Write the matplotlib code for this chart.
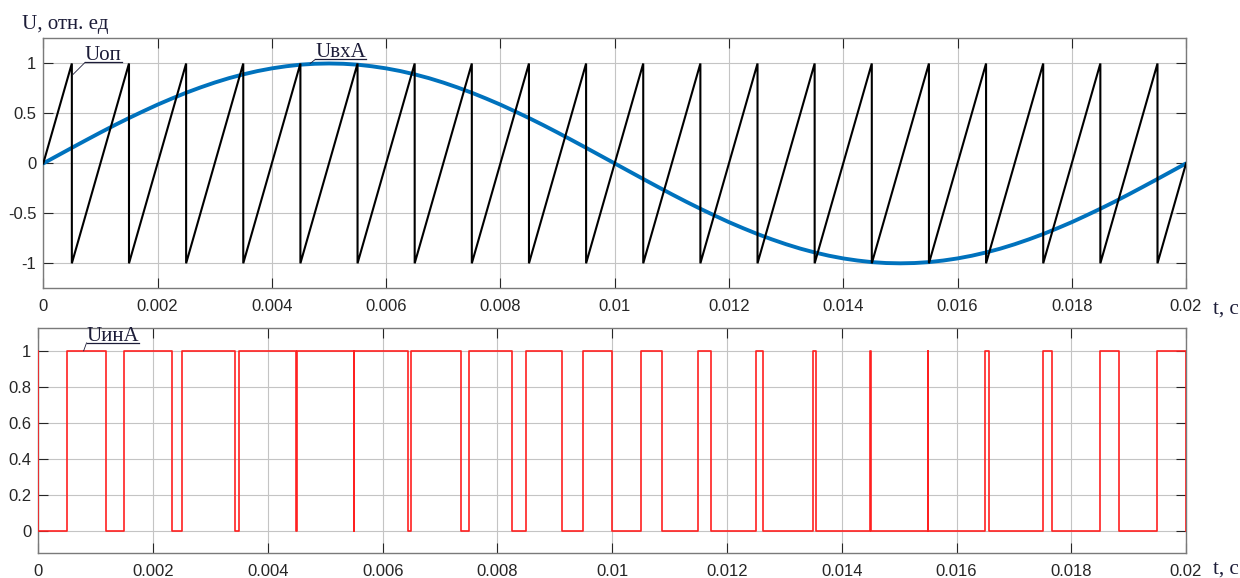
import numpy as np
import matplotlib
matplotlib.use("Agg")
import matplotlib.pyplot as plt
from matplotlib.lines import Line2D
from matplotlib.ticker import FuncFormatter, MultipleLocator

plt.rcParams['font.family'] = ['Liberation Sans', 'DejaVu Sans']
plt.rcParams['axes.unicode_minus'] = False

# input sine UвхA, sampled every 0.25 ms over one period (0 .. 0.02 s)
u_in = [0, 0.078, 0.156, 0.233, 0.309, 0.383, 0.454, 0.522, 0.588, 0.649,
        0.707, 0.760, 0.809, 0.853, 0.891, 0.924, 0.951, 0.972, 0.988, 0.997,
        1.0, 0.997, 0.988, 0.972, 0.951, 0.924, 0.891, 0.853, 0.809, 0.760,
        0.707, 0.649, 0.588, 0.522, 0.454, 0.383, 0.309, 0.233, 0.156, 0.078,
        0, -0.078, -0.156, -0.233, -0.309, -0.383, -0.454, -0.522, -0.588, -0.649,
        -0.707, -0.760, -0.809, -0.853, -0.891, -0.924, -0.951, -0.972, -0.988, -0.997,
        -1.0, -0.997, -0.988, -0.972, -0.951, -0.924, -0.891, -0.853, -0.809, -0.760,
        -0.707, -0.649, -0.588, -0.522, -0.454, -0.383, -0.309, -0.233, -0.156, -0.078, 0]

# reference sawtooth Uоп (corner points)
saw_t = [0, 0.0005, 0.0005, 0.0015, 0.0015, 0.0025, 0.0025, 0.0035, 0.0035,
         0.0045, 0.0045, 0.0055, 0.0055, 0.0065, 0.0065, 0.0075, 0.0075,
         0.0085, 0.0085, 0.0095, 0.0095, 0.0105, 0.0105, 0.0115, 0.0115,
         0.0125, 0.0125, 0.0135, 0.0135, 0.0145, 0.0145, 0.0155, 0.0155,
         0.0165, 0.0165, 0.0175, 0.0175, 0.0185, 0.0185, 0.0195, 0.0195, 0.02]
saw_u = [0, 1, -1, 1, -1, 1, -1, 1, -1, 1, -1, 1, -1, 1, -1, 1, -1, 1, -1, 1, -1,
         1, -1, 1, -1, 1, -1, 1, -1, 1, -1, 1, -1, 1, -1, 1, -1, 1, -1, 1, -1, 0]

# PWM output UинA: switching instants and level after each switch
pwm_t = [0, 0, 0.0005, 0.00118, 0.0015, 0.00233, 0.0025, 0.00343, 0.0035,
         0.004494, 0.0045, 0.005494, 0.0055, 0.00644, 0.0065, 0.00736, 0.0075,
         0.00826, 0.0085, 0.00913, 0.0095, 0.01, 0.0105, 0.01086, 0.0115,
         0.01173, 0.0125, 0.01262, 0.0135, 0.013555, 0.0145, 0.014506, 0.0155,
         0.015506, 0.0165, 0.01656, 0.0175, 0.01767, 0.0185, 0.01883, 0.0195, 0.02]
pwm_u = [1, 0, 1, 0, 1, 0, 1, 0, 1, 0, 1, 0, 1, 0, 1, 0, 1, 0, 1, 0, 1,
         0, 1, 0, 1, 0, 1, 0, 1, 0, 1, 0, 1, 0, 1, 0, 1, 0, 1, 0, 1, 0]

top_yticks = [-1, -0.5, 0, 0.5, 1]
bot_yticks = [0, 0.2, 0.4, 0.6, 0.8, 1]

SERIF = ['Liberation Serif', 'DejaVu Serif']
TXT = '#1c1c38'

fig = plt.figure(figsize=(12.4, 5.78), dpi=100)
ax1 = fig.add_axes([0.0349, 0.5012, 0.9216, 0.4322])
ax2 = fig.add_axes([0.0309, 0.0427, 0.9256, 0.3893])

t_in = np.linspace(0, 0.02, len(u_in))
ax1.plot(t_in, u_in, color='#0072BD', lw=2.8, zorder=3, solid_capstyle='round')
ax1.plot(saw_t, saw_u, color='black', lw=1.5, zorder=4, solid_joinstyle='miter')
ax2.step(pwm_t, pwm_u, where='post', color='#ff2020', lw=1.2, zorder=3)

fmt = FuncFormatter(lambda v, p: '%g' % round(v, 6))
for ax in (ax1, ax2):
    ax.set_xlim(0, 0.02)
    ax.xaxis.set_major_locator(MultipleLocator(0.002))
    ax.xaxis.set_major_formatter(fmt)
    ax.yaxis.set_major_formatter(fmt)
    ax.grid(True, color='#c4c4c4', lw=0.8)
    ax.set_axisbelow(True)
    for s in ax.spines.values():
        s.set_color('#7a7a7a')
        s.set_linewidth(1.0)
    ax.tick_params(direction='in', length=7, width=0.8, color='#262626',
                   labelcolor='#262626', labelsize=12, top=True, right=True)
    ax.tick_params(axis='x', pad=8)
    ax.tick_params(axis='y', pad=5)

ax1.set_ylim(-1.25, 1.25)
ax1.set_yticks(top_yticks)
ax2.set_ylim(-0.125, 1.125)
ax2.set_yticks(bot_yticks)

# axis captions
fig.text(0.018, 0.95, 'U, отн. ед', family=SERIF, fontsize=15, color=TXT)
fig.text(0.978, 0.458, 't, с', family=SERIF, fontsize=15, color=TXT)
fig.text(0.978, 0.007, 't, с', family=SERIF, fontsize=15, color=TXT)

# curve labels: (axes, text, text position, leader target)
labels = [
    (ax1, 'Uоп', (0.00073, 1.03), (0.00052, 0.89)),
    (ax1, 'UвхA', (0.00476, 1.06), (0.00467, 1.0)),
    (ax2, 'UинA', (0.00084, 1.055), (0.00079, 1.0)),
]
texts = []
for ax, s, pos, tgt in labels:
    txt = ax.text(pos[0], pos[1], s, family=SERIF, fontsize=15, color=TXT,
                  ha='left', va='baseline', zorder=6)
    texts.append((ax, txt, pos, tgt))

fig.canvas.draw()
inv = fig.transFigure.inverted()
for ax, txt, pos, tgt in texts:
    bb = txt.get_window_extent()
    base = ax.transData.transform(pos)
    y_ul = base[1] - 2
    p0 = inv.transform((bb.x0, y_ul))
    p1 = inv.transform((bb.x1, y_ul))
    p2 = inv.transform(ax.transData.transform(tgt))
    fig.add_artist(Line2D([p0[0], p1[0]], [p0[1], p1[1]], color=TXT, lw=0.9))
    fig.add_artist(Line2D([p0[0], p2[0]], [p0[1], p2[1]], color=TXT, lw=0.6))

fig.savefig('out.png', dpi=100)
